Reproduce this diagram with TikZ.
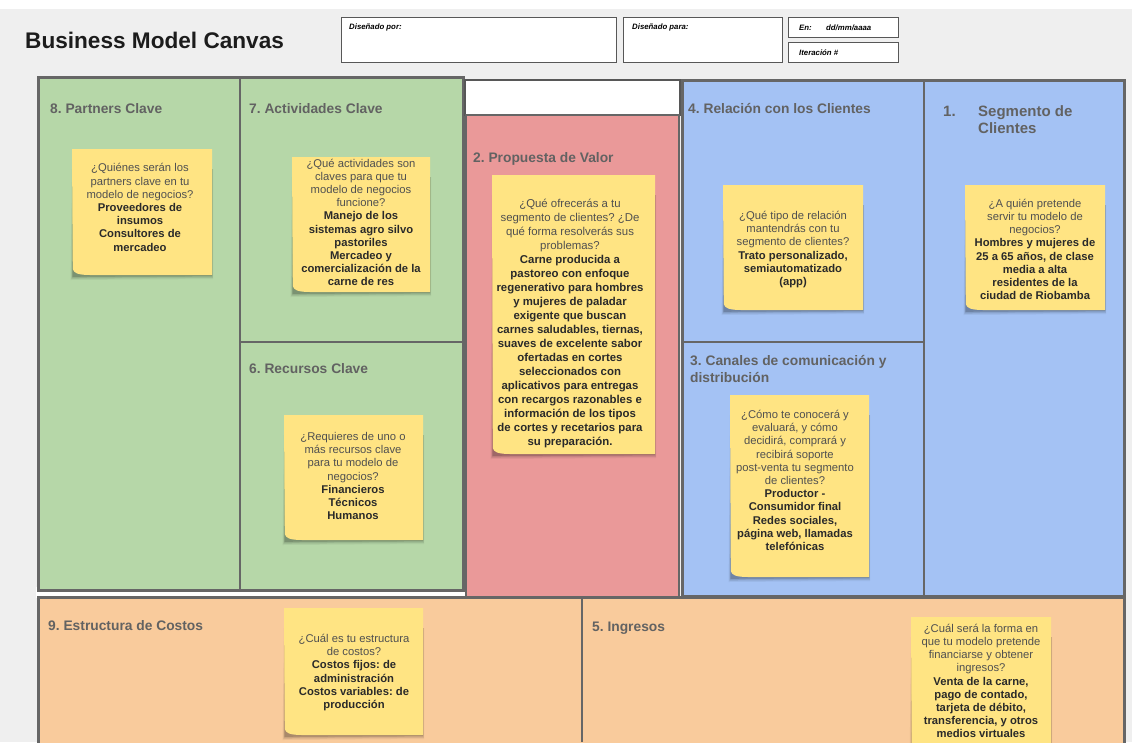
\documentclass[tikz,border=0pt]{standalone}
\usepackage{fontspec}
\setmainfont{Liberation Sans}
\usetikzlibrary{calc}
\frenchspacing

\definecolor{bgc}{HTML}{EFEFEF}
\definecolor{greenc}{HTML}{B6D7A8}
\definecolor{redc}{HTML}{EA9999}
\definecolor{bluec}{HTML}{A4C2F4}
\definecolor{orangec}{HTML}{F9CB9C}
\definecolor{notec}{HTML}{FFE483}
\definecolor{edgec}{HTML}{666666}
\definecolor{headc}{HTML}{626262}
\definecolor{askc}{HTML}{505050}
\definecolor{ansc}{HTML}{2A2A2A}
\definecolor{titlec}{HTML}{1C1C1C}

\tikzset{
  block/.style={draw=edgec, line width=3pt},
  divider/.style={draw=edgec, line width=2pt},
  infobox/.style={draw=edgec!85!black, line width=0.8pt, fill=white},
  infolabel/.style={anchor=base west, inner sep=0, text=black,
    font=\bfseries\itshape\fontsize{7.8}{9}\selectfont},
  heading/.style={anchor=base west, inner sep=0, text=headc, align=left,
    font=\bfseries\fontsize{13.8}{17}\selectfont},
  bigheading/.style={heading, font=\bfseries\fontsize{15}{17}\selectfont},
  notearea/.style={inner sep=0, outer sep=0},
  notetext/.style={inner sep=0, align=center, text=askc,
    font=\fontsize{11.25}{13.2}\selectfont},
}

\newcommand\notebold[1]{\textbf{\color{ansc}#1}}

% yellow sticky paper with a slightly lifted lower-left corner and a soft shadow
\newcommand\stickypaper[1]{%
  \foreach \s/\op in {4/0.05, 2.8/0.08, 1.6/0.11, 0.8/0.12}{
    \fill[black, opacity=\op]
      ($(#1.north west)+(-0.4*\s pt+1.5pt,-20pt)$) --
      ($(#1.north east)+(0.3*\s pt,-20pt)$) --
      ($(#1.south east)+(0.3*\s pt,-\s pt)$) --
      ($(#1.south west)+(-0.6*\s pt+1pt,-\s pt-1pt)$) -- cycle;
  }
  \fill[notec] (#1.north west) -- (#1.north east) -- (#1.south east) --
    ($(#1.south west)+(18pt,0pt)$)
    .. controls ($(#1.south west)+(6pt,0pt)$) and ($(#1.south west)+(1.5pt,2pt)$) ..
    ($(#1.south west)+(0.8pt,6pt)$) -- cycle;
}

\begin{document}
\begin{tikzpicture}[x=1pt, y=-1pt]
\useasboundingbox (0,0) rectangle (1132,742);
\clip (0,0) rectangle (1132,742);

% page background
\fill[white] (0,0) rectangle (1132,742);
\fill[bgc] (0,9) rectangle (1132,742);

% heading and information boxes
\node[anchor=base west, inner sep=0, text=titlec,
  font=\bfseries\fontsize{22.6}{26}\selectfont] (title) at (25,48.5) {Business Model Canvas};

\draw[infobox] (341,17) rectangle (616,62);
\node[infolabel] (byl) at (349,29) {Diseñado por:};
\draw[infobox] (623,17) rectangle (782,62);
\node[infolabel] (forl) at (632,29) {Diseñado para:};
\draw[infobox] (788,17) rectangle (898,37);
\node[infolabel] (onl) at (799,30) {En:};
\node[infolabel] (datel) at (826,30) {dd/mm/aaaa};
\draw[infobox] (788,42) rectangle (898,62);
\node[infolabel] (itl) at (799,55) {Iteración \#};

% canvas blocks
\fill[white] (36,587) rectangle (466,598);
\draw[block, fill=orangec] (38,597) rectangle (1124,770);
\draw[divider] (582,597) -- (582,742);

\draw[block, fill=greenc] (38,77) rectangle (463,590);
\draw[divider] (240,77) -- (240,590);
\draw[divider] (240,342) -- (463,342);

\draw[infobox, line width=1.2pt] (465,80) rectangle (680,115);
\draw[block, line width=2.2pt, fill=redc] (466,115) rectangle (679,597);

\draw[block, fill=bluec] (682,80) rectangle (1124,596);
\draw[divider] (924,80) -- (924,596);
\draw[divider] (682,342) -- (924,342);

% block headings (multi-line ones sit on the baseline of their last line)
\node[heading] (h8) at (50,113) {8. Partners Clave};
\node[heading] (h7) at (249,113) {7. Actividades Clave};
\node[heading] (h2) at (473,162) {2. Propuesta de Valor};
\node[heading] (h4) at (688,113) {4. Relación con los Clientes};
\node[bigheading] (h1n) at (943,116) {1.};
\node[bigheading] (h1) at (978,133) {Segmento de\\Clientes};
\node[heading] (h6) at (249,373) {6. Recursos Clave};
\node[heading] (h3) at (690,382) {3. Canales de comunicación y\\distribución};
\node[heading] (h9) at (48,630) {9. Estructura de Costos};
\node[heading] (h5) at (592,631) {5. Ingresos};

% sticky notes
\node[notearea, minimum width=140pt, minimum height=126pt] (n8) at (142,212) {};
\node[notearea, minimum width=138pt, minimum height=135pt] (n7) at (361,224.5) {};
\node[notearea, minimum width=163pt, minimum height=279pt] (n2) at (573.5,314.5) {};
\node[notearea, minimum width=140pt, minimum height=125pt] (n4) at (793,247.5) {};
\node[notearea, minimum width=140pt, minimum height=125pt] (n1) at (1035,247.5) {};
\node[notearea, minimum width=139pt, minimum height=125pt] (n6) at (353.5,477.5) {};
\node[notearea, minimum width=139pt, minimum height=182pt] (n3) at (799.5,486) {};
\node[notearea, minimum width=139pt, minimum height=127pt] (n9) at (353.5,671.5) {};
\node[notearea, minimum width=140pt, minimum height=143pt] (n5) at (981,688.5) {};
\foreach \n in {n8,n7,n2,n4,n1,n6,n3,n9,n5}{\stickypaper{\n}}

% note texts
\node[notetext] (t8) at (140,207.5) {¿Quiénes serán los\\partners clave en tu\\modelo de negocios?\\
  \notebold{Proveedores de}\\\notebold{insumos}\\\notebold{Consultores de}\\\notebold{mercadeo}};
\node[notetext] (t7) at (361,222.5) {¿Qué actividades son\\claves para que tu\\modelo de negocios\\funcione?\\
  \notebold{Manejo de los}\\\notebold{sistemas agro silvo}\\\notebold{pastoriles}\\
  \notebold{Mercadeo y}\\\notebold{comercialización de la}\\\notebold{carne de res}};
\node[notetext, font=\fontsize{11.4}{14}\selectfont] (t2) at (570,323) {¿Qué ofrecerás a tu\\segmento de clientes? ¿De\\qué forma resolverás sus\\problemas?\\
  \notebold{Carne producida a}\\\notebold{pastoreo con enfoque}\\\notebold{regenerativo para hombres}\\
  \notebold{y mujeres de paladar}\\\notebold{exigente que buscan}\\\notebold{carnes saludables, tiernas,}\\
  \notebold{suaves de excelente sabor}\\\notebold{ofertadas en cortes}\\\notebold{seleccionados con}\\
  \notebold{aplicativos para entregas}\\\notebold{con recargos razonables e}\\\notebold{información de los tipos}\\
  \notebold{de cortes y recetarios para}\\\notebold{su preparación.}};
\node[notetext] (t4) at (793,249.5) {¿Qué tipo de relación\\mantendrás con tu\\segmento de clientes?\\
  \notebold{Trato personalizado,}\\\notebold{semiautomatizado}\\\notebold{(app)}};
\node[notetext] (t1) at (1035,249.5) {¿A quién pretende\\servir tu modelo de\\negocios?\\
  \notebold{Hombres y mujeres de}\\\notebold{25 a 65 años, de clase}\\\notebold{media a alta}\\
  \notebold{residentes de la}\\\notebold{ciudad de Riobamba}};
\node[notetext] (t6) at (353,476) {¿Requieres de uno o\\más recursos clave\\para tu modelo de\\negocios?\\
  \notebold{Financieros}\\\notebold{Técnicos}\\\notebold{Humanos}};
\node[notetext] (t3) at (795,480.5) {¿Cómo te conocerá y\\evaluará, y cómo\\decidirá, comprará y\\recibirá soporte\\post-venta tu segmento\\de clientes?\\
  \notebold{Productor -}\\\notebold{Consumidor final}\\\notebold{Redes sociales,}\\
  \notebold{página web, llamadas}\\\notebold{telefónicas}};
\node[notetext] (t9) at (354,672.5) {¿Cuál es tu estructura\\de costos?\\
  \notebold{Costos fijos: de}\\\notebold{administración}\\\notebold{Costos variables: de}\\\notebold{producción}};
\node[notetext] (t5) at (981,681) {¿Cuál será la forma en\\que tu modelo pretende\\financiarse y obtener\\ingresos?\\
  \notebold{Venta de la carne,}\\\notebold{pago de contado,}\\\notebold{tarjeta de débito,}\\
  \notebold{transferencia, y otros}\\\notebold{medios virtuales}};
\end{tikzpicture}
\end{document}
